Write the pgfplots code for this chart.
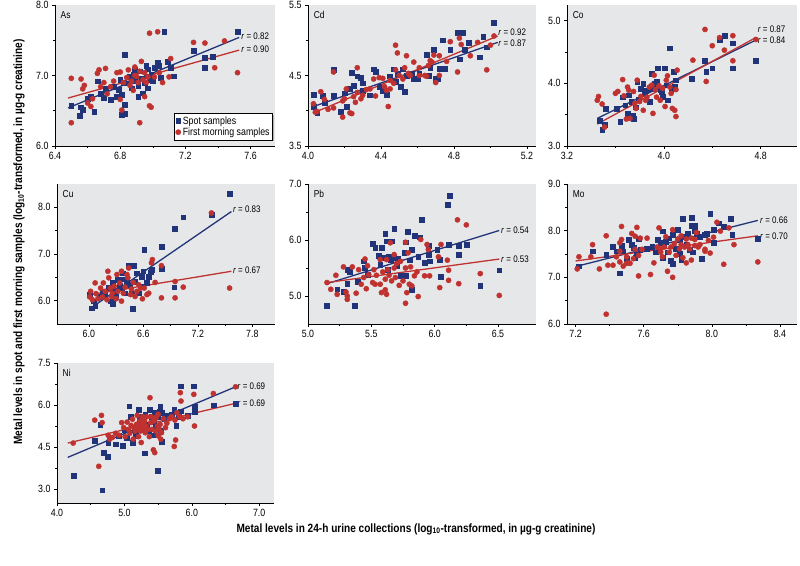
\documentclass[border=0pt]{standalone}
\usepackage{fontspec}
\setmainfont{Liberation Sans}[FakeStretch=0.84]
\usepackage{pgfplots}
\pgfplotsset{compat=1.18}
\usetikzlibrary{shadows}
\definecolor{bS}{RGB}{33,52,122}
\definecolor{rS}{RGB}{192,50,48}
\definecolor{bg}{RGB}{230,231,232}
\pgfkeys{/pgf/number format/.cd, fixed, fixed zerofill, precision=1, assume math mode=true}
\pgfplotsset{
 panel/.style={
  scale only axis, anchor=south west,
  axis x line*=bottom, axis y line*=left,
  axis line style={-, black, line width=0.6pt},
  axis background/.style={fill=bg},
  tick align=outside, major tick length=3pt, minor tick length=2pt, minor tick num=1,
  tick style={black, line width=0.5pt},
  every tick label/.append style={font=\fontsize{10.5}{11}\selectfont},
  clip=false,
 },
 spot/.style={only marks, mark=square*, mark size=2.4pt, mark options={fill=bS, draw=bS}},
 morn/.style={only marks, mark=*, mark size=2.6pt, mark options={fill=rS, draw=rS}},
 bline/.style={bS, line width=1.3pt, forget plot, no marks},
 rline/.style={rS, line width=1.3pt, forget plot, no marks},
}
\newcommand{\rlab}[2]{\node[anchor=west, font=\fontsize{9.5}{10}\selectfont, inner sep=0.5pt] at (axis cs:#1) {\textit{r} = #2};}
\newcommand{\plab}[1]{\node[anchor=north west, font=\fontsize{10}{11}\selectfont] at (rel axis cs:0.01,0.98) {#1};}
\begin{document}
\begin{tikzpicture}[x=1pt,y=1pt]
\useasboundingbox (0,0) rectangle (800,565);
% ---------------- As
\begin{axis}[panel, at={(55pt,419pt)}, width=220pt, height=141pt,
  xmin=6.4, xmax=7.75, ymin=6, ymax=8, xtick={6.4,6.8,7.2,7.6}, ytick={6,7,8},
  legend style={at={(0.99,0.043)}, anchor=south east, draw=black, fill=white,
    font=\fontsize{10.5}{11}\selectfont, inner sep=1pt, row sep=-2pt,
    drop shadow={shadow xshift=1pt, shadow yshift=-1pt, fill=black!50}},
  legend cell align=left]
\addplot[spot] coordinates {(6.50,6.57)(6.55,6.43)(6.56,6.55)(6.57,6.51)(6.60,6.67)(6.62,6.70)(6.64,6.49)(6.66,6.92)(6.68,6.74)(6.70,6.68)(6.71,6.81)(6.74,6.66)(6.76,6.84)(6.78,6.70)(6.79,6.80)(6.80,6.94)(6.81,6.73)(6.82,6.90)(6.83,7.29)(6.81,6.44)(6.83,6.59)(6.83,6.46)(6.85,6.89)(6.86,6.98)(6.87,6.82)(6.88,7.01)(6.89,7.08)(6.89,6.93)(6.91,6.70)(6.91,6.85)(6.92,7.06)(6.93,6.95)(6.94,6.75)(6.95,6.90)(6.96,7.14)(6.96,6.99)(6.97,7.09)(6.97,6.82)(6.98,6.94)(6.99,7.01)(7.00,6.92)(7.01,7.11)(7.03,7.18)(7.04,7.14)(7.05,6.97)(7.07,7.62)(7.09,7.20)(7.11,7.11)(7.13,6.99)(7.25,7.35)(7.32,7.11)(7.32,7.25)(7.37,7.27)(7.52,7.62)};
\addlegendentry{Spot samples}
\addplot[morn] coordinates {(6.50,6.33)(6.50,6.96)(6.56,6.95)(6.57,6.81)(6.58,6.86)(6.60,6.61)(6.62,6.56)(6.63,6.67)(6.66,7.03)(6.67,7.08)(6.68,6.84)(6.70,6.90)(6.71,7.10)(6.72,6.74)(6.74,6.84)(6.76,6.92)(6.78,7.04)(6.80,7.05)(6.80,6.66)(6.81,6.51)(6.82,6.90)(6.84,6.97)(6.85,7.08)(6.86,6.86)(6.87,6.92)(6.88,6.79)(6.89,7.12)(6.89,7.00)(6.90,6.99)(6.91,6.90)(6.92,6.33)(6.92,7.06)(6.93,7.20)(6.94,6.94)(6.95,7.04)(6.95,6.70)(6.96,6.90)(6.97,6.98)(6.98,6.57)(6.98,7.60)(6.99,6.55)(7.01,6.98)(7.03,7.62)(7.04,7.04)(7.06,6.90)(7.10,6.98)(7.11,7.24)(7.25,7.47)(7.32,7.46)(7.38,7.11)(7.44,7.49)(7.52,7.04)};
\addlegendentry{First morning samples}
\addplot[bline] coordinates {(6.48,6.54)(7.53,7.54)};
\addplot[rline] coordinates {(6.48,6.68)(7.53,7.36)};
\rlab{7.54,7.55}{0.82}
\rlab{7.54,7.37}{0.90}
\plab{As}
\end{axis}
% ---------------- Cd
\begin{axis}[panel, at={(308pt,419pt)}, width=228pt, height=141pt,
  xmin=4.0, xmax=5.25, ymin=3.5, ymax=5.5, xtick={4.0,4.4,4.8,5.2}, ytick={3.5,4.5,5.5}]
\addplot[spot] coordinates {(4.03,4.23)(4.03,4.06)(4.05,3.97)(4.08,4.21)(4.09,4.11)(4.14,4.58)(4.14,4.21)(4.18,3.99)(4.20,4.25)(4.21,4.06)(4.23,4.31)(4.24,4.54)(4.25,4.35)(4.27,4.49)(4.29,4.47)(4.30,4.29)(4.30,4.39)(4.34,4.22)(4.36,4.59)(4.37,4.55)(4.39,4.34)(4.41,4.29)(4.43,4.23)(4.45,4.49)(4.47,4.59)(4.48,4.41)(4.49,4.52)(4.51,4.34)(4.52,4.59)(4.53,4.27)(4.54,4.50)(4.57,4.52)(4.58,4.46)(4.60,4.45)(4.61,4.52)(4.65,4.79)(4.66,4.50)(4.67,4.61)(4.69,4.87)(4.70,4.45)(4.71,4.45)(4.72,4.60)(4.74,5.00)(4.75,4.60)(4.78,4.87)(4.82,5.11)(4.83,4.73)(4.85,5.11)(4.86,4.87)(4.88,4.96)(4.94,4.76)(4.96,5.05)(4.98,4.90)(5.02,5.25)};
\addplot[morn] coordinates {(4.03,4.10)(4.04,3.98)(4.05,3.99)(4.07,4.27)(4.09,4.16)(4.11,4.02)(4.14,4.55)(4.14,4.04)(4.19,3.91)(4.19,4.14)(4.20,4.17)(4.21,4.31)(4.23,3.97)(4.24,3.96)(4.25,4.20)(4.26,4.12)(4.27,4.61)(4.27,4.26)(4.29,4.17)(4.30,4.22)(4.32,4.30)(4.34,4.31)(4.36,4.45)(4.37,4.21)(4.39,4.47)(4.41,4.46)(4.42,4.34)(4.43,4.29)(4.44,4.06)(4.45,4.43)(4.45,4.31)(4.47,4.39)(4.48,4.93)(4.48,4.58)(4.49,4.82)(4.50,4.50)(4.52,4.45)(4.53,4.61)(4.54,4.78)(4.55,4.53)(4.56,4.50)(4.58,4.69)(4.61,4.50)(4.61,4.61)(4.64,4.50)(4.65,4.49)(4.66,4.64)(4.67,4.71)(4.68,4.69)(4.69,4.79)(4.70,4.40)(4.72,4.50)(4.72,4.78)(4.76,4.70)(4.78,4.98)(4.82,4.55)(4.83,5.03)(4.84,4.94)(4.89,4.78)(4.93,4.97)(4.98,4.58)(5.00,4.93)(5.02,5.06)};
\addplot[bline] coordinates {(4.03,4.06)(5.04,4.97)};
\addplot[rline] coordinates {(4.03,3.97)(5.04,5.06)};
\rlab{5.04,5.11}{0.92}
\rlab{5.04,4.96}{0.87}
\plab{Cd}
\end{axis}
% ---------------- Co
\begin{axis}[panel, at={(567pt,419pt)}, width=230pt, height=141pt,
  xmin=3.2, xmax=5.1, ymin=3.0, ymax=5.25, xtick={3.2,4.0,4.8}, ytick={3.0,4.0,5.0}]
\addplot[spot] coordinates {(3.47,3.41)(3.49,3.26)(3.51,3.34)(3.52,3.59)(3.61,3.60)(3.64,3.39)(3.66,3.78)(3.68,3.65)(3.70,3.52)(3.71,3.81)(3.73,3.71)(3.74,3.49)(3.75,3.44)(3.77,3.62)(3.78,4.03)(3.79,3.74)(3.81,3.92)(3.83,4.00)(3.84,3.84)(3.86,3.89)(3.88,3.71)(3.90,4.15)(3.91,3.92)(3.92,4.00)(3.94,4.03)(3.95,4.24)(3.97,3.90)(3.98,3.87)(3.99,3.79)(4.01,4.24)(4.02,3.97)(4.03,3.73)(4.05,4.56)(4.06,3.90)(4.08,4.19)(4.09,3.94)(4.10,4.05)(4.23,4.08)(4.34,4.36)(4.35,4.19)(4.40,4.24)(4.46,4.70)(4.50,4.76)(4.57,4.24)(4.57,4.64)(4.76,4.36)};
\addplot[morn] coordinates {(3.45,3.73)(3.46,3.79)(3.49,3.67)(3.51,3.30)(3.60,3.84)(3.62,3.87)(3.66,4.06)(3.67,3.80)(3.69,3.43)(3.70,3.94)(3.71,3.89)(3.72,3.44)(3.75,3.87)(3.76,3.68)(3.77,3.60)(3.78,4.05)(3.80,3.71)(3.81,3.79)(3.83,3.57)(3.85,3.73)(3.86,3.78)(3.88,3.94)(3.90,3.97)(3.91,3.52)(3.92,4.13)(3.93,3.90)(3.94,3.78)(3.96,3.96)(3.97,3.73)(3.99,3.92)(4.01,3.63)(4.02,4.05)(4.03,4.12)(4.05,3.94)(4.06,3.84)(4.07,3.60)(4.09,3.57)(4.10,3.47)(4.10,3.90)(4.11,4.21)(4.24,4.37)(4.34,4.86)(4.35,4.03)(4.40,4.60)(4.46,4.73)(4.50,4.53)(4.57,4.36)(4.57,4.76)(4.76,4.70)};
\addplot[bline] coordinates {(3.45,3.44)(4.76,4.69)};
\addplot[rline] coordinates {(3.45,3.35)(4.76,4.73)};
\rlab{4.77,4.87}{0.87}
\rlab{4.77,4.69}{0.84}
\plab{Co}
\end{axis}
% ---------------- Cu
\begin{axis}[panel, at={(57pt,241pt)}, width=218pt, height=140pt,
  xmin=5.65, xmax=8.05, ymin=5.5, ymax=8.5, xtick={6.0,6.6,7.2,7.8}, ytick={6.0,7.0,8.0}]
\addplot[spot] coordinates {(6.01,6.13)(6.03,5.84)(6.05,5.99)(6.07,5.89)(6.12,6.09)(6.15,6.20)(6.18,6.13)(6.22,6.27)(6.24,5.99)(6.26,5.94)(6.26,6.38)(6.28,6.22)(6.30,6.09)(6.32,6.45)(6.34,6.32)(6.36,6.27)(6.37,6.59)(6.38,6.46)(6.40,6.16)(6.42,6.39)(6.44,6.75)(6.45,6.34)(6.47,6.15)(6.48,5.82)(6.49,6.75)(6.51,6.41)(6.53,6.59)(6.55,6.16)(6.57,6.31)(6.58,6.51)(6.60,6.63)(6.61,7.09)(6.64,6.39)(6.66,6.52)(6.68,6.61)(6.69,6.66)(6.80,7.15)(6.80,6.68)(6.94,6.29)(6.95,7.54)(7.04,7.79)(7.35,7.84)(7.55,8.29)};
\addplot[morn] coordinates {(6.01,6.08)(6.02,6.20)(6.04,6.02)(6.07,6.38)(6.08,6.15)(6.10,6.04)(6.13,6.27)(6.15,6.08)(6.16,6.38)(6.18,6.20)(6.20,6.02)(6.21,6.63)(6.22,6.49)(6.24,6.27)(6.25,6.09)(6.26,6.16)(6.28,6.31)(6.30,6.04)(6.31,6.56)(6.32,6.20)(6.34,6.38)(6.36,6.63)(6.36,5.99)(6.38,6.16)(6.40,6.29)(6.42,6.56)(6.43,6.49)(6.44,6.70)(6.46,6.13)(6.47,6.25)(6.49,6.39)(6.51,6.09)(6.53,6.20)(6.55,6.34)(6.57,6.27)(6.59,6.04)(6.61,6.27)(6.64,6.13)(6.66,6.16)(6.69,6.81)(6.70,6.88)(6.73,6.39)(6.80,6.75)(6.80,6.06)(6.95,6.06)(6.95,6.41)(7.04,6.29)(7.35,7.88)(7.55,6.27)};
\addplot[bline] coordinates {(6.02,5.84)(7.57,7.91)};
\addplot[rline] coordinates {(6.02,6.13)(7.57,6.63)};
\rlab{7.58,7.95}{0.83}
\rlab{7.58,6.66}{0.67}
\plab{Cu}
\end{axis}
% ---------------- Pb
\begin{axis}[panel, at={(308pt,241pt)}, width=228pt, height=140pt,
  xmin=5.0, xmax=6.8, ymin=4.5, ymax=7.0, xtick={5.0,5.5,6.0,6.5}, ytick={5.0,6.0,7.0}]
\addplot[spot] coordinates {(5.15,4.83)(5.23,5.12)(5.28,5.07)(5.31,5.22)(5.31,5.47)(5.33,5.44)(5.37,4.83)(5.39,5.25)(5.44,5.62)(5.45,5.50)(5.47,5.38)(5.51,5.93)(5.53,5.86)(5.56,5.72)(5.57,5.56)(5.58,5.86)(5.59,5.68)(5.61,6.11)(5.62,5.98)(5.63,5.47)(5.64,5.71)(5.65,5.64)(5.66,5.98)(5.68,5.68)(5.68,6.20)(5.70,5.54)(5.71,5.66)(5.73,5.36)(5.75,5.36)(5.76,5.77)(5.77,5.36)(5.77,5.96)(5.79,6.15)(5.80,5.64)(5.82,5.83)(5.82,5.11)(5.84,6.08)(5.87,5.70)(5.88,6.05)(5.90,6.36)(5.92,5.60)(5.95,5.90)(5.95,5.74)(5.96,5.62)(6.02,5.83)(6.04,5.65)(6.05,5.34)(6.10,6.63)(6.11,5.92)(6.12,6.79)(6.19,5.90)(6.19,5.74)(6.25,5.92)(6.36,5.19)(6.51,5.46)};
\addplot[morn] coordinates {(5.15,5.24)(5.18,5.12)(5.22,5.37)(5.23,5.03)(5.28,5.52)(5.30,5.07)(5.31,4.94)(5.31,5.00)(5.35,5.52)(5.38,5.05)(5.40,5.47)(5.42,5.21)(5.44,5.33)(5.45,5.66)(5.46,5.13)(5.47,5.54)(5.48,5.38)(5.51,5.24)(5.52,5.47)(5.53,5.21)(5.54,5.37)(5.57,5.65)(5.57,5.21)(5.58,5.06)(5.59,5.43)(5.61,5.11)(5.61,5.30)(5.62,5.03)(5.62,5.65)(5.63,5.47)(5.64,5.37)(5.65,5.95)(5.66,5.27)(5.68,5.74)(5.68,5.50)(5.69,5.33)(5.70,5.58)(5.72,5.19)(5.73,5.62)(5.75,5.27)(5.77,5.96)(5.77,5.50)(5.77,4.87)(5.78,5.06)(5.79,5.77)(5.80,5.21)(5.81,5.52)(5.82,5.18)(5.84,5.36)(5.86,5.43)(5.87,4.99)(5.89,6.01)(5.92,5.36)(5.94,5.92)(5.95,5.83)(5.96,5.36)(6.03,5.70)(6.04,5.15)(6.05,5.92)(6.10,5.64)(6.11,5.28)(6.11,5.46)(6.18,6.36)(6.19,5.22)(6.25,6.27)(6.36,5.40)(6.51,5.01)};
\addplot[bline] coordinates {(5.15,5.22)(6.51,6.17)};
\addplot[rline] coordinates {(5.15,5.24)(6.51,5.66)};
\rlab{6.52,6.17}{0.54}
\rlab{6.52,5.66}{0.53}
\plab{Pb}
\end{axis}
% ---------------- Mo
\begin{axis}[panel, at={(567pt,241pt)}, width=230pt, height=140pt,
  xmin=7.15, xmax=8.5, ymin=6.0, ymax=9.0, xtick={7.2,7.6,8.0,8.4}, ytick={6.0,7.0,8.0,9.0}]
\addplot[spot] coordinates {(7.22,7.24)(7.30,7.56)(7.38,7.49)(7.42,7.65)(7.44,7.56)(7.46,7.09)(7.47,7.68)(7.48,7.56)(7.50,7.40)(7.51,7.81)(7.53,7.70)(7.54,7.63)(7.55,7.42)(7.56,7.49)(7.57,7.82)(7.58,7.60)(7.62,7.61)(7.65,7.65)(7.67,7.54)(7.68,7.81)(7.70,7.74)(7.71,7.99)(7.71,7.42)(7.72,7.70)(7.73,7.77)(7.74,7.54)(7.75,7.84)(7.76,7.35)(7.77,7.30)(7.77,7.91)(7.79,7.61)(7.80,8.02)(7.81,7.81)(7.81,7.51)(7.82,7.38)(7.83,8.25)(7.84,7.88)(7.85,7.70)(7.86,7.94)(7.87,7.60)(7.88,8.27)(7.88,8.11)(7.89,7.54)(7.90,7.99)(7.90,8.11)(7.91,7.94)(7.93,7.87)(7.94,7.40)(7.96,7.91)(7.97,7.94)(7.99,8.36)(8.01,8.02)(8.01,7.74)(8.04,8.16)(8.07,8.08)(8.11,8.25)(8.12,7.91)(8.27,7.82)};
\addplot[morn] coordinates {(7.21,7.18)(7.22,7.44)(7.29,7.44)(7.30,7.70)(7.34,7.18)(7.38,7.89)(7.39,7.26)(7.38,6.21)(7.42,7.26)(7.44,7.44)(7.46,7.74)(7.46,7.56)(7.46,7.33)(7.47,8.09)(7.47,7.81)(7.48,7.24)(7.50,7.30)(7.50,7.44)(7.51,7.31)(7.52,7.30)(7.53,7.94)(7.54,7.40)(7.55,7.88)(7.55,7.60)(7.56,8.07)(7.57,7.03)(7.57,7.47)(7.58,7.84)(7.59,7.60)(7.62,7.84)(7.64,7.06)(7.66,7.31)(7.68,7.65)(7.69,8.06)(7.70,7.54)(7.70,7.61)(7.71,7.44)(7.72,7.65)(7.73,7.87)(7.74,7.13)(7.75,7.54)(7.76,7.65)(7.77,7.00)(7.77,8.02)(7.78,7.72)(7.79,7.47)(7.80,7.82)(7.81,7.61)(7.82,7.89)(7.82,7.70)(7.83,7.42)(7.84,7.65)(7.85,7.82)(7.85,7.31)(7.86,7.70)(7.87,7.61)(7.88,7.37)(7.88,7.84)(7.90,7.68)(7.90,7.81)(7.91,7.96)(7.92,7.65)(7.93,7.70)(7.96,7.60)(7.96,7.56)(7.98,7.79)(7.99,7.52)(8.01,7.86)(8.03,8.18)(8.05,7.99)(8.07,7.28)(8.10,8.06)(8.13,7.70)(8.27,7.33)};
\addplot[bline] coordinates {(7.20,7.23)(8.27,8.22)};
\addplot[rline] coordinates {(7.20,7.35)(8.27,7.89)};
\rlab{8.28,8.23}{0.66}
\rlab{8.28,7.89}{0.70}
\plab{Mo}
\end{axis}
% ---------------- Ni
\begin{axis}[panel, at={(57pt,62pt)}, width=217pt, height=140pt,
  xmin=4.0, xmax=7.22, ymin=2.5, ymax=7.5, xtick={4,5,6,7}, ytick={3.0,4.5,6.0,7.5}]
\addplot[spot] coordinates {(4.25,3.47)(4.56,4.72)(4.64,5.31)(4.67,2.96)(4.69,4.30)(4.75,4.16)(4.76,4.66)(4.87,4.60)(4.92,4.90)(4.98,4.56)(5.01,5.13)(5.04,4.84)(5.07,5.96)(5.09,5.58)(5.12,4.66)(5.15,5.13)(5.17,4.90)(5.19,5.31)(5.21,5.84)(5.23,5.49)(5.24,5.13)(5.26,5.58)(5.29,5.13)(5.30,4.28)(5.31,5.67)(5.33,5.31)(5.36,5.07)(5.38,5.84)(5.40,5.58)(5.43,5.39)(5.44,4.92)(5.45,5.72)(5.47,5.25)(5.49,3.65)(5.50,5.58)(5.52,5.78)(5.53,5.94)(5.54,5.07)(5.55,4.68)(5.56,5.72)(5.59,5.51)(5.64,5.63)(5.70,5.67)(5.74,5.84)(5.77,5.25)(5.81,5.58)(5.83,6.67)(5.84,5.78)(5.94,5.63)(6.03,6.67)(6.04,5.94)(6.04,5.75)(6.32,5.99)(6.65,6.06)};
\addplot[morn] coordinates {(4.24,4.64)(4.56,5.46)(4.62,3.81)(4.66,5.63)(4.67,5.37)(4.76,4.92)(4.78,4.78)(4.82,4.84)(4.87,4.99)(4.92,4.92)(4.96,5.37)(4.99,5.19)(5.01,4.87)(5.04,5.39)(5.06,5.13)(5.08,4.99)(5.10,5.27)(5.12,5.49)(5.13,4.78)(5.15,5.19)(5.16,5.07)(5.18,5.31)(5.19,5.63)(5.21,4.87)(5.22,5.19)(5.23,5.43)(5.24,5.07)(5.25,4.66)(5.26,5.31)(5.27,5.58)(5.29,5.19)(5.30,5.43)(5.31,5.01)(5.32,5.25)(5.33,5.58)(5.35,5.13)(5.37,4.87)(5.38,6.26)(5.39,5.37)(5.40,5.58)(5.41,5.13)(5.43,4.40)(5.44,5.43)(5.45,4.30)(5.46,5.07)(5.47,5.55)(5.49,5.25)(5.50,4.90)(5.50,5.67)(5.52,5.13)(5.53,5.31)(5.54,4.78)(5.55,5.01)(5.58,5.51)(5.61,5.19)(5.63,5.35)(5.67,5.51)(5.70,5.58)(5.74,4.52)(5.75,5.46)(5.76,4.75)(5.78,5.72)(5.82,5.58)(5.83,6.44)(5.84,6.14)(5.87,5.51)(5.94,5.58)(6.03,6.38)(6.04,5.25)(6.32,6.41)(6.65,6.65)};
\addplot[bline] coordinates {(4.16,4.13)(6.65,6.65)};
\addplot[rline] coordinates {(4.16,4.64)(6.65,6.06)};
\rlab{6.67,6.67}{0.69}
\rlab{6.67,6.08}{0.69}
\plab{Ni}
\end{axis}
% ---------------- axis titles
\node[rotate=90, font=\bfseries\fontsize{12}{13}\selectfont] at (19pt,323pt)
  {Metal levels in spot and first morning samples (log\textsubscript{10}-transformed, in µg-g creatinine)};
\node[font=\bfseries\fontsize{12}{13}\selectfont] at (416pt,36pt)
  {Metal levels in 24-h urine collections (log\textsubscript{10}-transformed, in µg-g creatinine)};
\end{tikzpicture}
\end{document}
